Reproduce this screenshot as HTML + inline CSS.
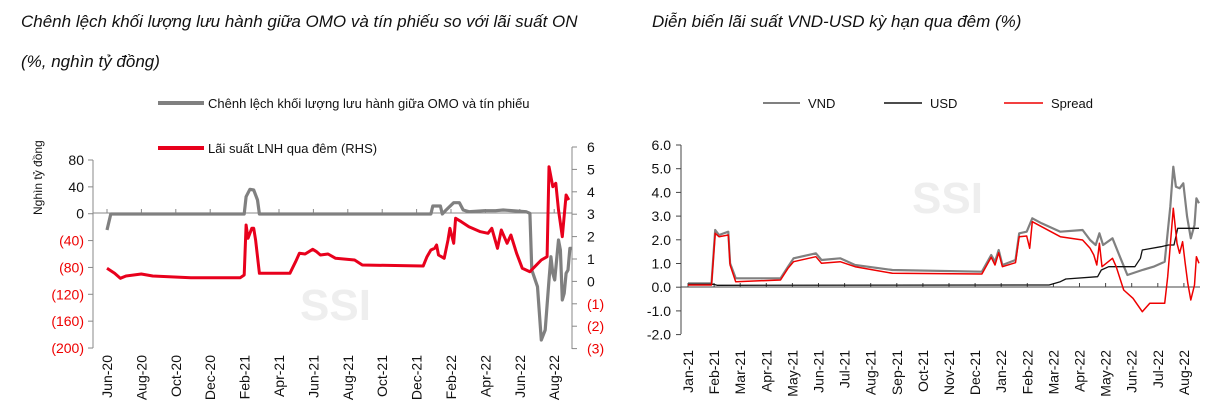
<!DOCTYPE html>
<html><head><meta charset="utf-8"><style>
body{margin:0;background:#fff;width:1213px;height:414px;overflow:hidden}
svg{position:absolute;left:0;top:0}
text{font-family:"Liberation Sans Narrow","Liberation Sans","Noto Sans CJK SC",sans-serif;}
</style></head><body>
<svg id="s" width="1213" height="414" xmlns="http://www.w3.org/2000/svg">
<text x="21" y="27" font-size="17" font-style="italic" fill="#111">Chênh lệch khối lượng lưu hành giữa OMO và tín phiếu so với lãi suất ON</text>
<text x="21" y="67" font-size="17" font-style="italic" fill="#111">(%, nghìn tỷ đồng)</text>
<text x="652" y="27" font-size="17" font-style="italic" fill="#111">Diễn biến lãi suất VND-USD kỳ hạn qua đêm (%)</text>
<text x="300" y="320" font-size="44" font-weight="bold" fill="#eee">SSI</text>
<text x="912" y="213" font-size="44" font-weight="bold" fill="#eee">SSI</text>
<line x1="158" y1="103" x2="204" y2="103" stroke="#808080" stroke-width="4"/>
<text x="208" y="108" font-size="13" fill="#111">Chênh lệch khối lượng lưu hành giữa OMO và tín phiếu</text>
<line x1="158" y1="148" x2="204" y2="148" stroke="#e8001c" stroke-width="4"/>
<text x="208" y="153" font-size="13" fill="#111">Lãi suất LNH qua đêm (RHS)</text>
<text transform="translate(42,215) rotate(-90)" font-size="12" fill="#111">Nghìn tỷ đồng</text>
<line x1="763" y1="103" x2="800" y2="103" stroke="#808080" stroke-width="2"/>
<text x="808" y="108" font-size="13" fill="#111">VND</text>
<line x1="884" y1="103" x2="922" y2="103" stroke="#111" stroke-width="1.5"/>
<text x="930" y="108" font-size="13" fill="#111">USD</text>
<line x1="1004" y1="103" x2="1043" y2="103" stroke="#e00" stroke-width="1.5"/>
<text x="1051" y="108" font-size="13" fill="#111">Spread</text>
<g id="g"></g>
</svg>
<script>
var g=document.getElementById('g'),NS="http://www.w3.org/2000/svg",h='';
function L(x1,y1,x2,y2,c,w){h+='<line x1="'+x1+'" y1="'+y1+'" x2="'+x2+'" y2="'+y2+'" stroke="'+c+'" stroke-width="'+(w||1)+'"/>';}
function T(x,y,s,c,a,rot){if(rot)h+='<text transform="translate('+x+','+y+') rotate(-90)" font-size="14" fill="'+c+'" text-anchor="end">'+s+'</text>';else h+='<text x="'+x+'" y="'+y+'" font-size="14" fill="'+c+'" text-anchor="'+a+'">'+s+'</text>';}
// left chart
L(93,160,93,348,'#888');L(572,147,572,349,'#888');
var ll=['80','40','0','(40)','(80)','(120)','(160)','(200)'];
for(var i=0;i<8;i++){var y=160+i*26.86;L(88,y,93,y,'#888');T(84,y+5,ll[i],i<3?'#111':'#e00','end');}
var rl=['6','5','4','3','2','1','0','(1)','(2)','(3)'];
for(var i=0;i<10;i++){var y=147+i*22.4;L(572,y,577,y,'#888');T(587,y+5,rl[i],i<7?'#111':'#e00','start');}
L(93,213,572,213,'#888');
var xl=['Jun-20','Aug-20','Oct-20','Dec-20','Feb-21','Apr-21','Jun-21','Aug-21','Oct-21','Dec-21','Feb-22','Apr-22','Jun-22','Aug-22'];
for(var i=0;i<14;i++){var x=107+i*34.4;L(x,209,x,213,'#888');T(x+5,355,xl[i],'#111','',1);}
function P(pts,fx,fy,c,w){var s='';for(var i=0;i<pts.length;i+=2)s+=fx(pts[i]).toFixed(1)+','+fy(pts[i+1]).toFixed(1)+' ';h+='<polyline points="'+s+'" fill="none" stroke="'+c+'" stroke-width="'+w+'" stroke-linejoin="round"/>';}
var lx=function(z){return 107+(z-280)*0.381},ly=function(z){return 130+z/3};
P([280,300,290,252,640,252,645,200,655,178,665,180,675,210,680,252,1130,252,1135,228,1155,228,1160,252,1170,240,1190,218,1205,218,1215,240,1230,245,1270,242,1300,242,1320,240,1380,245,1390,250,1395,420,1410,470,1420,630,1430,600,1440,450,1445,380,1450,430,1455,450,1465,330,1470,360,1475,510,1480,490,1485,430,1490,420,1495,355,1500,355],lx,ly,'#808080',3.2);
P([280,415,300,430,315,445,330,438,370,432,400,438,500,443,630,443,640,435,645,285,650,325,660,295,665,295,670,330,680,430,760,430,775,395,785,370,800,372,820,358,830,365,840,375,860,372,880,385,930,390,950,405,1110,408,1120,380,1130,360,1140,355,1145,345,1150,375,1165,385,1175,330,1180,295,1190,340,1195,265,1210,275,1230,290,1260,305,1280,310,1290,295,1305,355,1315,300,1330,340,1340,315,1355,370,1370,415,1390,425,1420,390,1435,380,1440,110,1450,170,1458,160,1465,240,1475,320,1485,195,1492,210],lx,ly,'#e8001c',3);
// right chart
L(681,145,681,334,'#444');
var r=['6.0','5.0','4.0','3.0','2.0','1.0','0.0','-1.0','-2.0'];
for(var i=0;i<9;i++){var y=145+i*23.7;L(676,y,681,y,'#444');T(671,y+5,r[i],'#111','end');}
L(681,287,1200,287,'#444');
var m=['Jan-21','Feb-21','Mar-21','Apr-21','May-21','Jun-21','Jul-21','Aug-21','Sep-21','Oct-21','Nov-21','Dec-21','Jan-22','Feb-22','Mar-22','Apr-22','May-22','Jun-22','Jul-22','Aug-22'];
for(var i=0;i<20;i++){var x=688+i*26.1;L(x,283,x,287,'#444');T(x+5,350,m[i],'#111','',1);}
var rx=function(z){return 688+(z-152)*0.373},ry=function(z){return 130+z/3};
P([152,460,215,460,225,300,235,315,260,305,265,400,280,445,400,445,420,410,435,385,495,370,510,390,560,385,600,405,700,420,940,425,965,375,975,395,985,360,995,405,1030,390,1040,310,1060,305,1075,265,1100,280,1150,305,1210,300,1230,330,1245,345,1255,310,1265,345,1290,325,1310,380,1330,435,1370,420,1400,410,1430,395,1445,230,1453,110,1460,170,1470,175,1480,160,1490,260,1500,325,1510,285,1515,205,1522,220],rx,ry,'#808080',2.2);
P([152,463,220,463,230,466,1120,465,1150,455,1165,447,1250,440,1260,420,1280,410,1350,410,1365,385,1370,360,1420,350,1440,345,1455,345,1465,295,1522,295],rx,ry,'#111',1.3);
P([152,465,215,465,225,310,235,320,260,315,265,405,280,455,400,450,420,415,435,395,495,380,510,400,560,395,600,410,700,430,940,432,965,382,975,405,985,368,995,410,1030,398,1040,320,1060,318,1068,355,1075,275,1100,290,1150,320,1210,330,1230,355,1240,375,1248,405,1255,340,1262,410,1290,385,1300,410,1320,480,1345,505,1370,545,1390,520,1430,520,1438,440,1453,235,1463,340,1470,370,1478,335,1485,400,1492,460,1500,510,1510,465,1515,380,1522,400],rx,ry,'#e00',1.5);
g.innerHTML=h;
</script>
</body></html>
